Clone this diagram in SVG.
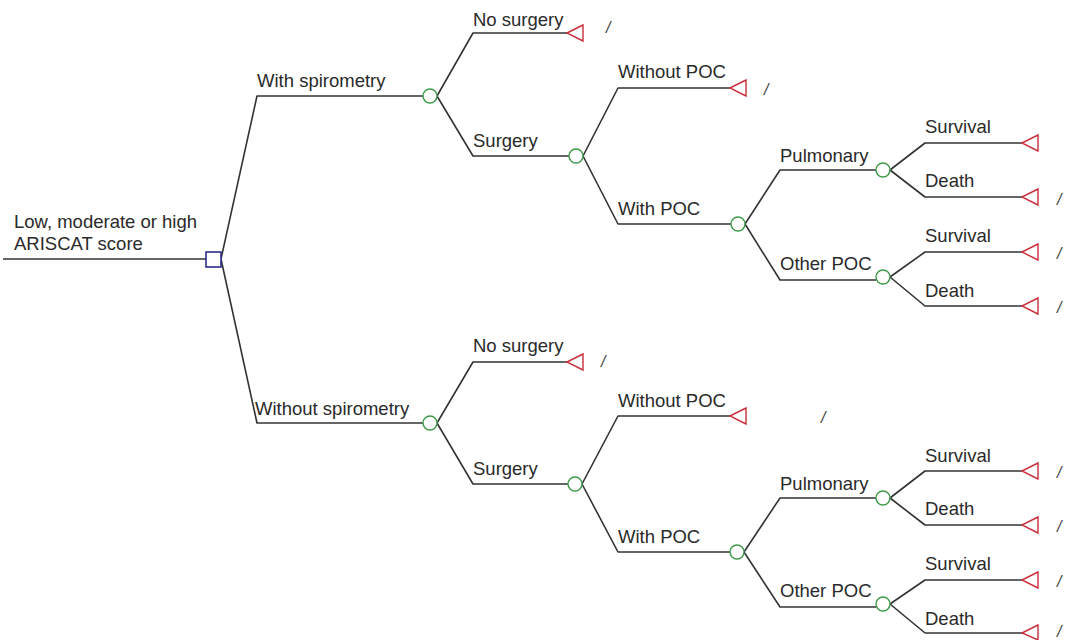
<svg xmlns="http://www.w3.org/2000/svg" width="1076" height="640" viewBox="0 0 1076 640">
<style>
.ln{fill:none;stroke:#333;stroke-width:1.6;stroke-linejoin:round}
.ch{fill:#fff;stroke:#3e9a48;stroke-width:1.4}
.tm{fill:#fff;stroke:#c8303c;stroke-width:1.4;stroke-linejoin:miter}
.dc{fill:#fff;stroke:#2e2e8a;stroke-width:1.6}
.lb{font-family:"Liberation Sans",Arial,sans-serif;font-size:18.5px;fill:#2a2a2a}
.sl{font-family:"Liberation Sans",Arial,sans-serif;font-size:16px;fill:#444;font-style:italic}
</style>
<rect width="1076" height="640" fill="#fff"/>
<g id="connectors">
<path class="ln" d="M3,259H206"/>
<path class="ln" d="M221,259L257,96H423M221,259L257,423H423"/>
<path class="ln" d="M437,96L473,33H567M437,96L473,156H569"/>
<path class="ln" d="M583,156L618,88H730M583,156L618,224H731"/>
<path class="ln" d="M745,224L780,170H876M745,224L780,280H876"/>
<path class="ln" d="M890,170L925,143H1022M890,170L925,197H1022"/>
<path class="ln" d="M890,277L925,252H1022M890,277L925,306H1022"/>
<path class="ln" d="M437,423L473,362H567M437,423L473,484H568"/>
<path class="ln" d="M582,484L618,416H730M582,484L618,552H730"/>
<path class="ln" d="M744,552L780,498H876M744,552L780,607H876"/>
<path class="ln" d="M890,498L925,471H1022M890,498L925,525H1022"/>
<path class="ln" d="M890,604L925,580H1022M890,604L925,633H1022"/>
</g>
<g id="root">
<rect class="dc" x="206" y="252" width="15" height="15"/>
<text class="lb" x="14" y="228">Low, moderate or high</text>
<text class="lb" x="14" y="250">ARISCAT score</text>
</g>
<g id="with-spirometry">
<circle class="ch" cx="430" cy="96" r="7"/>
<text class="lb" x="257" y="87">With spirometry</text>
</g>
<g id="t-nosurgery-1">
<polygon class="tm" points="567,33 583,25 583,41"/>
<text class="lb" x="473" y="26">No surgery</text>
<text class="sl" x="606" y="33">/</text>
</g>
<g id="surgery-1">
<circle class="ch" cx="576" cy="156" r="7"/>
<text class="lb" x="473" y="147">Surgery</text>
</g>
<g id="t-withoutpoc-1">
<polygon class="tm" points="730,88 746,80 746,96"/>
<text class="lb" x="618" y="78">Without POC</text>
<text class="sl" x="764" y="95">/</text>
</g>
<g id="withpoc-1">
<circle class="ch" cx="738" cy="224" r="7"/>
<text class="lb" x="618" y="215">With POC</text>
</g>
<g id="pulmonary-1">
<circle class="ch" cx="883" cy="170" r="7"/>
<text class="lb" x="780" y="162">Pulmonary</text>
</g>
<g id="t-survival-1a">
<polygon class="tm" points="1022,143 1038,135 1038,151"/>
<text class="lb" x="925" y="133">Survival</text>
</g>
<g id="t-death-1a">
<polygon class="tm" points="1022,197 1038,189 1038,205"/>
<text class="lb" x="925" y="187">Death</text>
<text class="sl" x="1057" y="205">/</text>
</g>
<g id="otherpoc-1">
<circle class="ch" cx="883" cy="277" r="7"/>
<text class="lb" x="780" y="270">Other POC</text>
</g>
<g id="t-survival-1b">
<polygon class="tm" points="1022,252 1038,244 1038,260"/>
<text class="lb" x="925" y="242">Survival</text>
<text class="sl" x="1057" y="259">/</text>
</g>
<g id="t-death-1b">
<polygon class="tm" points="1022,306 1038,298 1038,314"/>
<text class="lb" x="925" y="297">Death</text>
<text class="sl" x="1057" y="313">/</text>
</g>
<g id="without-spirometry">
<circle class="ch" cx="430" cy="423" r="7"/>
<text class="lb" x="255" y="415">Without spirometry</text>
</g>
<g id="t-nosurgery-2">
<polygon class="tm" points="567,362 583,354 583,370"/>
<text class="lb" x="473" y="352">No surgery</text>
<text class="sl" x="601" y="367">/</text>
</g>
<g id="surgery-2">
<circle class="ch" cx="575" cy="484" r="7"/>
<text class="lb" x="473" y="475">Surgery</text>
</g>
<g id="t-withoutpoc-2">
<polygon class="tm" points="730,416 746,408 746,424"/>
<text class="lb" x="618" y="407">Without POC</text>
<text class="sl" x="821" y="423">/</text>
</g>
<g id="withpoc-2">
<circle class="ch" cx="737" cy="552" r="7"/>
<text class="lb" x="618" y="543">With POC</text>
</g>
<g id="pulmonary-2">
<circle class="ch" cx="883" cy="498" r="7"/>
<text class="lb" x="780" y="490">Pulmonary</text>
</g>
<g id="t-survival-2a">
<polygon class="tm" points="1022,471 1038,463 1038,479"/>
<text class="lb" x="925" y="462">Survival</text>
<text class="sl" x="1057" y="478">/</text>
</g>
<g id="t-death-2a">
<polygon class="tm" points="1022,525 1038,517 1038,533"/>
<text class="lb" x="925" y="515">Death</text>
<text class="sl" x="1057" y="532">/</text>
</g>
<g id="otherpoc-2">
<circle class="ch" cx="883" cy="604" r="7"/>
<text class="lb" x="780" y="597">Other POC</text>
</g>
<g id="t-survival-2b">
<polygon class="tm" points="1022,580 1038,572 1038,588"/>
<text class="lb" x="925" y="570">Survival</text>
<text class="sl" x="1057" y="587">/</text>
</g>
<g id="t-death-2b">
<polygon class="tm" points="1022,633 1038,625 1038,640"/>
<text class="lb" x="925" y="625">Death</text>
<text class="sl" x="1057" y="637">/</text>
</g>
</svg>
